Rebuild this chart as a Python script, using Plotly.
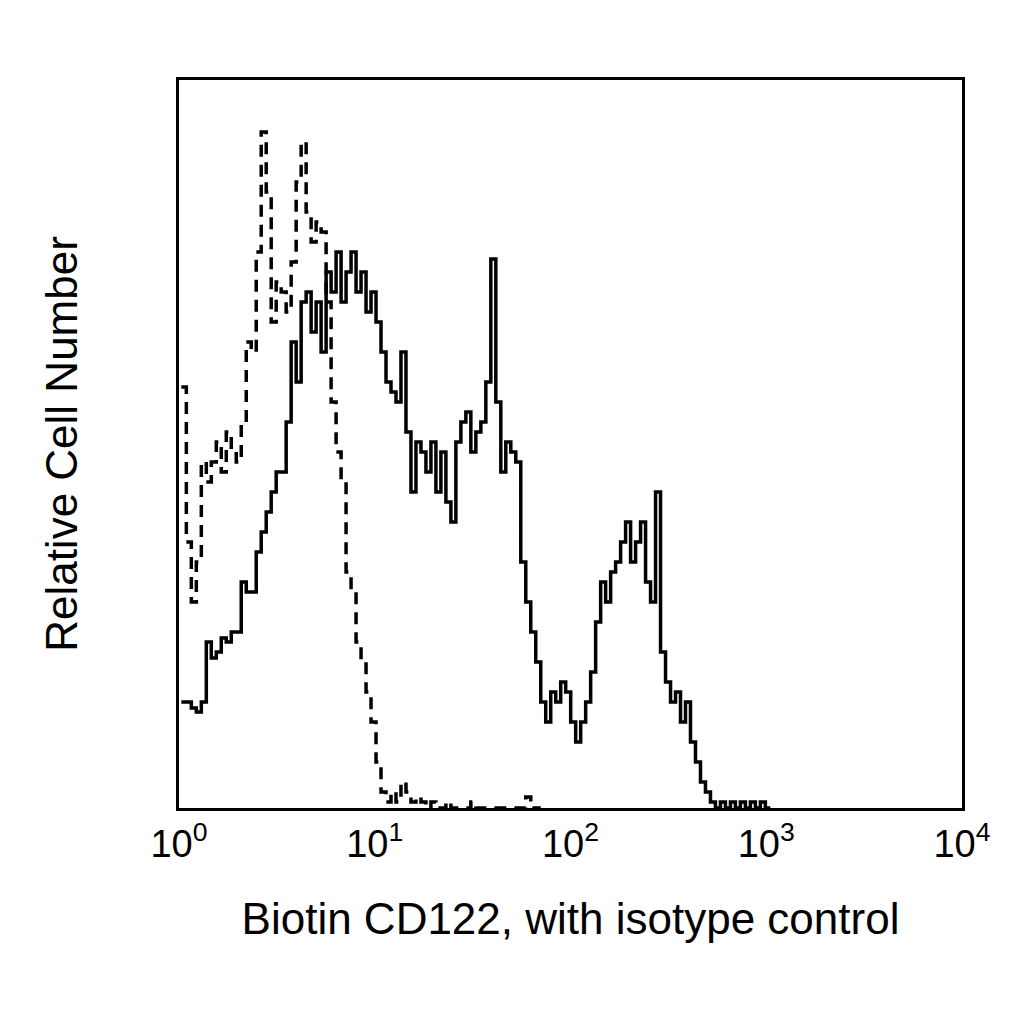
import numpy as np
import plotly.graph_objects as go

# channel width in decades, histograms start at 10^0
bin_width = 0.0255

cd122_counts = [106, 106, 100, 96, 106, 166, 150, 156, 170, 166, 176, 176, 226, 216, 216, 256,
                276, 296, 316, 336, 336, 386, 466, 426, 506, 516, 476, 506, 456, 536, 516, 556,
                506, 536, 556, 516, 536, 496, 516, 486, 456, 426, 416, 406, 456, 376, 316, 366,
                356, 336, 366, 316, 356, 306, 286, 366, 386, 396, 356, 376, 386, 426, 549, 406,
                336, 366, 356, 346, 246, 206, 176, 146, 106, 86, 116, 106, 126, 116, 86, 66,
                86, 106, 136, 186, 226, 206, 236, 246, 266, 286, 246, 266, 286, 226, 206, 316,
                156, 126, 106, 116, 86, 106, 66, 46, 26, 16, 6, 0, 6, 0, 6, 0, 6, 0, 6, 0, 6, 0]

isotype_counts = [421, 266, 206, 246, 346, 326, 346, 366, 336, 376, 356, 346, 386, 466, 456, 556,
                  676, 616, 486, 526, 516, 496, 546, 626, 666, 596, 566, 586, 576, 506, 406, 356,
                  326, 236, 216, 166, 146, 116, 86, 46, 16, 6, 16, 6, 26, 16, 6, 11, 6, 0, 6, 0,
                  0, 6, 0, 0, 0, 0, 6, 0, 0, 0, 0, 0, 0, 0, 0, 0, 0, 11, 0, 0]

tick_vals = [1, 10, 100, 1000, 10000]
tick_text = ["10<sup>0</sup>", "10<sup>1</sup>", "10<sup>2</sup>", "10<sup>3</sup>", "10<sup>4</sup>"]


def step_xy(counts):
    edges = 10 ** (np.arange(len(counts) + 1) * bin_width + 0.012)
    y = list(counts) + [counts[-1]]
    return edges, y


fig = go.Figure()
x, y = step_xy(isotype_counts)
fig.add_trace(go.Scatter(x=x, y=y, mode="lines", line_shape="hv",
                         line=dict(color="black", width=3.5, dash="12px,8px")))
x, y = step_xy(cd122_counts)
fig.add_trace(go.Scatter(x=x, y=y, mode="lines", line_shape="hv",
                         line=dict(color="black", width=3.5)))

fig.update_layout(
    width=1024, height=1024, showlegend=False,
    paper_bgcolor="white", plot_bgcolor="white",
    margin=dict(l=171, r=70, t=72, b=224, autoexpand=False),
    font=dict(family="Liberation Sans, Arial", color="black"),
)
fig.update_xaxes(type="log", range=[0, 4], tickvals=tick_vals, ticktext=tick_text,
                 tickfont=dict(size=38), showgrid=False, zeroline=False, automargin=False,
                 showline=True, linecolor="black", linewidth=3, mirror=True,
                 title=dict(text="Biotin CD122, with isotype control", font=dict(size=44), standoff=40))
fig.update_yaxes(range=[0, 728], showticklabels=False, ticks="", showgrid=False, zeroline=False,
                 automargin=False, showline=True, linecolor="black", linewidth=3, mirror=True,
                 title=dict(text="Relative Cell Number", font=dict(size=44), standoff=85))

fig.write_html("out.html")
